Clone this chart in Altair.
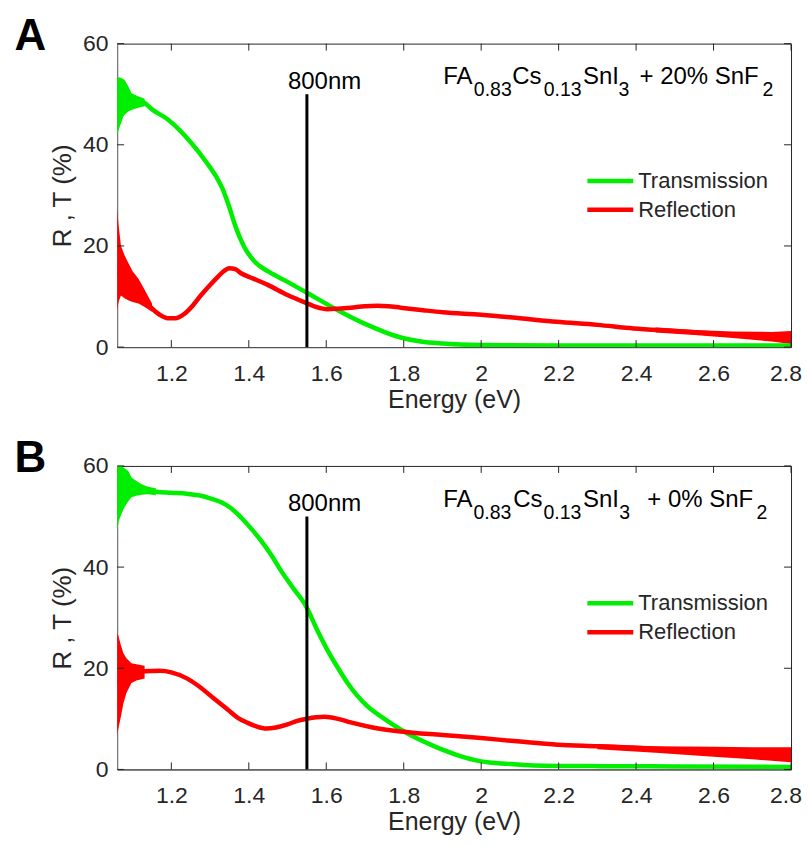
import altair as alt
import pandas as pd

# ---------------- data ----------------
X_TICKS = [1.2, 1.4, 1.6, 1.8, 2.0, 2.2, 2.4, 2.6, 2.8]
Y_TICKS = [0, 20, 40, 60]
X_RANGE = [1.06, 2.8]
Y_RANGE = [0, 60]
SERIES = ["Transmission", "Reflection"]
LINE_800_E = [1.55]
LINE_800_TOP = [50]
LABEL_800 = ["800nm"]
LETTERS = ["A", "B"]
X_TITLE = "Energy (eV)"
Y_TITLE = "R , T (%)"

A_NOTE = ["FA", "0.83", "Cs", "0.13", "SnI", "3", "+ 20% SnF", "2"]
B_NOTE = ["FA", "0.83", "Cs", "0.13", "SnI", "3", "+ 0% SnF", "2"]

# Panel A (20% SnF2) -- Transmission
A_T_E = [1.060, 1.080, 1.100, 1.130, 1.150, 1.191, 1.250, 1.290, 1.315, 1.335, 1.350, 1.365,
         1.389, 1.414, 1.449, 1.500, 1.549, 1.620, 1.706, 1.792, 1.844, 1.900, 2.000, 2.200,
         2.500, 2.800]
A_T_V = [48.0, 49.0, 48.9, 48.3, 47.0, 45.0, 40.5, 36.6, 33.8, 30.8, 27.6, 24.0,
         19.7, 17.0, 15.0, 12.9, 10.8, 7.7, 4.4, 1.9, 1.1, 0.7, 0.4, 0.3,
         0.3, 0.3]
A_T_NE = [1.060, 1.067, 1.076, 1.080, 1.089, 1.097, 1.114, 1.131]
A_T_NLO = [42.0, 43.6, 45.6, 46.0, 46.6, 46.9, 47.3, 47.6]
A_T_NHI = [53.4, 53.3, 53.0, 52.7, 51.5, 50.2, 49.6, 49.1]
# Panel A -- Reflection
A_R_E = [1.060, 1.080, 1.106, 1.130, 1.149, 1.170, 1.191, 1.210, 1.234, 1.255, 1.277, 1.300,
         1.320, 1.335, 1.350, 1.365, 1.380, 1.410, 1.449, 1.500, 1.549, 1.575, 1.603, 1.630,
         1.663, 1.700, 1.732, 1.760, 1.792, 1.850, 1.900, 2.000, 2.100, 2.195, 2.300, 2.393,
         2.500, 2.598, 2.700, 2.800]
A_R_V = [15.0, 14.0, 11.6, 9.4, 7.7, 6.4, 5.7, 5.7, 6.6, 8.2, 10.3, 12.3,
         13.9, 15.0, 15.6, 15.4, 14.6, 13.6, 12.3, 10.3, 8.7, 7.9, 7.5, 7.6,
         7.8, 8.1, 8.2, 8.1, 7.8, 7.3, 6.9, 6.4, 5.7, 5.0, 4.4, 3.7,
         3.2, 2.7, 2.2, 1.8]
A_R_NE = [1.060, 1.064, 1.070, 1.080, 1.090, 1.100, 1.115, 1.130, 1.150]
A_R_NLO = [7.4, 9.0, 10.2, 9.6, 9.2, 8.9, 8.6, 8.0, 7.0]
A_R_NHI = [27.4, 24.0, 20.0, 18.0, 16.5, 15.0, 13.5, 11.5, 8.6]
A_R_TE = [2.45, 2.55, 2.65, 2.75, 2.80]
A_R_TLO = [2.9, 2.4, 1.8, 1.1, 0.6]
A_R_THI = [3.9, 3.4, 3.1, 3.0, 3.2]

# Panel B (0% SnF2) -- Transmission
B_T_E = [1.060, 1.080, 1.100, 1.130, 1.160, 1.200, 1.240, 1.277, 1.300, 1.329, 1.355, 1.380,
         1.405, 1.432, 1.458, 1.483, 1.515, 1.549, 1.575, 1.603, 1.630, 1.655, 1.680, 1.706,
         1.750, 1.792, 1.835, 1.878, 1.940, 2.000, 2.070, 2.135, 2.307, 2.500, 2.800]
B_T_V = [54.5, 56.0, 56.0, 55.4, 54.9, 54.7, 54.5, 54.1, 53.6, 52.8, 51.6, 49.8,
         47.7, 45.2, 42.4, 39.3, 35.8, 32.1, 27.8, 23.6, 20.1, 17.1, 14.6, 12.5,
         10.0, 7.9, 6.1, 4.6, 2.8, 1.6, 1.1, 0.8, 0.65, 0.6, 0.5]
B_T_NE = [1.060, 1.064, 1.071, 1.080, 1.089, 1.097, 1.110, 1.123, 1.140, 1.160]
B_T_NLO = [47.0, 49.0, 50.5, 52.0, 53.0, 53.8, 54.1, 54.3, 54.4, 54.2]
B_T_NHI = [60.0, 60.0, 60.0, 59.5, 59.0, 57.7, 57.0, 56.4, 55.9, 55.6]
# Panel B -- Reflection
B_R_E = [1.060, 1.080, 1.100, 1.130, 1.170, 1.200, 1.240, 1.277, 1.310, 1.346, 1.370, 1.397,
         1.420, 1.445, 1.470, 1.500, 1.525, 1.549, 1.575, 1.595, 1.630, 1.663, 1.720, 1.792,
         1.900, 2.000, 2.100, 2.198, 2.300, 2.395, 2.500, 2.601, 2.700, 2.794]
B_R_V = [17.0, 18.5, 19.1, 19.4, 19.5, 19.2, 18.0, 16.1, 14.0, 11.8, 10.3, 9.2,
         8.5, 8.1, 8.3, 8.9, 9.6, 10.0, 10.3, 10.4, 10.0, 9.3, 8.3, 7.5,
         6.8, 6.2, 5.5, 4.9, 4.6, 4.3, 3.9, 3.6, 3.3, 2.95]
B_R_NE = [1.060, 1.063, 1.070, 1.076, 1.084, 1.097, 1.110, 1.131]
B_R_NLO = [6.9, 8.0, 10.5, 13.0, 15.1, 17.1, 17.6, 18.0]
B_R_NHI = [26.9, 26.5, 24.5, 23.0, 22.0, 21.0, 20.8, 20.5]
B_R_TE = [2.30, 2.45, 2.60, 2.70, 2.80]
B_R_TLO = [4.0, 3.3, 2.5, 2.0, 1.4]
B_R_THI = [5.0, 4.6, 4.5, 4.4, 4.4]

# ---------------- style ----------------
FONT = "Liberation Sans"
TXT = "#262626"
GREEN = "#00ee00"
RED = "#ff0000"
W, H = 675, 304
LW = 4.5

xs = alt.Scale(domain=X_RANGE, nice=False, zero=False)
ys = alt.Scale(domain=Y_RANGE, nice=False, zero=False)
XAX = alt.Axis(values=X_TICKS, format="~g", title=X_TITLE, labelFlush=True,
               labelFlushOffset=10.5, labelOverlap=False,
               domainColor="#555555", ticks=False, tickSize=0, labelPadding=15, titlePadding=2,
               titleFontSize=25, grid=False)
YAX = alt.Axis(values=Y_TICKS, title=Y_TITLE, labelOverlap=False, domainColor="#808080",
               ticks=False, tickSize=0, labelPadding=9, titlePadding=7, titleFontSize=26,
               grid=False)


def X(f="e"):
    return alt.X(f + ":Q", scale=xs, axis=XAX)


def Y(f="v"):
    return alt.Y(f + ":Q", scale=ys, axis=YAX)


def line(E, V, color):
    df = pd.DataFrame({"e": E, "v": V})
    return alt.Chart(df).mark_line(color=color, strokeWidth=LW, interpolate="monotone",
                                   clip=True, strokeCap="butt").encode(x=X(), y=Y())


def band(E, LO, HI, color):
    df = pd.DataFrame({"e": E, "v": LO, "hi": HI})
    return alt.Chart(df).mark_area(color=color, opacity=1, clip=True).encode(
        x=X(), y=Y(), y2="hi:Q")


def panel(letter, note, note_x, note_base, T, TN, R, RN, RT):
    layers = []
    layers.append(band(*TN, GREEN))
    layers.append(band(*RN, RED))
    layers.append(band(*RT, RED))
    layers.append(line(*T, GREEN))
    layers.append(line(*R, RED))

    # 800 nm marker
    mk = pd.DataFrame({"e": LINE_800_E, "v": [0], "top": LINE_800_TOP, "lab": LABEL_800})
    layers.append(alt.Chart(mk).mark_rule(color="black", strokeWidth=3).encode(
        x=X(), y=Y(), y2="top:Q"))
    layers.append(alt.Chart(mk).mark_text(font=FONT, fontSize=24, color="black", align="left",
                                          baseline="alphabetic", dx=-19).encode(
        x=X(), y=alt.value(45), text="lab:N"))

    # inward ticks on all four sides
    xt = pd.DataFrame({"e": X_TICKS})
    yt = pd.DataFrame({"v": Y_TICKS})
    layers.append(alt.Chart(xt).mark_rule(color=TXT, strokeWidth=1).encode(
        x=X(), y=alt.value(H), y2=alt.value(H - 7)))
    layers.append(alt.Chart(xt).mark_rule(color=TXT, strokeWidth=1).encode(
        x=X(), y=alt.value(0), y2=alt.value(7)))
    layers.append(alt.Chart(yt).mark_rule(color=TXT, strokeWidth=1).encode(
        y=Y(), x=alt.value(0), x2=alt.value(7)))
    layers.append(alt.Chart(yt).mark_rule(color=TXT, strokeWidth=1).encode(
        y=Y(), x=alt.value(W), x2=alt.value(W - 7)))

    # legend (manual, MATLAB style)
    for i, (name, col) in enumerate(zip(SERIES, [GREEN, RED])):
        ly = 137.5 + 29 * i
        ld = pd.DataFrame({"s": [name]})
        layers.append(alt.Chart(ld).mark_rule(color=col, strokeWidth=LW).encode(
            x=alt.value(471), x2=alt.value(517), y=alt.value(ly)))
        layers.append(alt.Chart(ld).mark_text(font=FONT, fontSize=22, color=TXT, align="left",
                                              baseline="middle").encode(
            x=alt.value(522), y=alt.value(ly), text="s:N"))

    # chemical formula annotation with subscripts
    for i, (seg, sx) in enumerate(zip(note, note_x)):
        sub = i % 2 == 1
        sd = pd.DataFrame({"t": [seg]})
        layers.append(alt.Chart(sd).mark_text(font=FONT, fontSize=19.5 if sub else 24,
                                              color="black", align="left",
                                              baseline="alphabetic").encode(
            x=alt.value(sx), y=alt.value(note_base + (12.6 if sub else 0)), text="t:N"))

    # panel letter
    ld = pd.DataFrame({"t": [letter]})
    layers.append(alt.Chart(ld).mark_text(font=FONT, fontSize=44, fontWeight="bold",
                                          color="black", align="left",
                                          baseline="top").encode(
        x=alt.value(-102.7), y=alt.value(-29), text="t:N"))

    return alt.layer(*layers).properties(width=W, height=H)


pA = panel(LETTERS[0], A_NOTE, [326.7, 357.3, 395.7, 427.3, 466.7, 502.3, 523.3, 646.5], 40,
           (A_T_E, A_T_V), (A_T_NE, A_T_NLO, A_T_NHI),
           (A_R_E, A_R_V), (A_R_NE, A_R_NLO, A_R_NHI), (A_R_TE, A_R_TLO, A_R_THI))
pB = panel(LETTERS[1], B_NOTE, [326.7, 357, 396.7, 427, 466.7, 503, 531, 640.5], 41,
           (B_T_E, B_T_V), (B_T_NE, B_T_NLO, B_T_NHI),
           (B_R_E, B_R_V), (B_R_NE, B_R_NLO, B_R_NHI), (B_R_TE, B_R_TLO, B_R_THI))

chart = alt.vconcat(pA, pB, spacing=23).properties(
    padding={"left": 5.3, "top": 5, "right": 0, "bottom": 0}, background="white"
).configure_view(stroke="#262626", strokeWidth=1).configure_axis(
    labelFont=FONT, titleFont=FONT, labelFontSize=23, labelColor=TXT,
    titleColor=TXT, titleFontWeight="normal")

chart.save("out.html", embed_options={"renderer": "svg", "actions": False})
